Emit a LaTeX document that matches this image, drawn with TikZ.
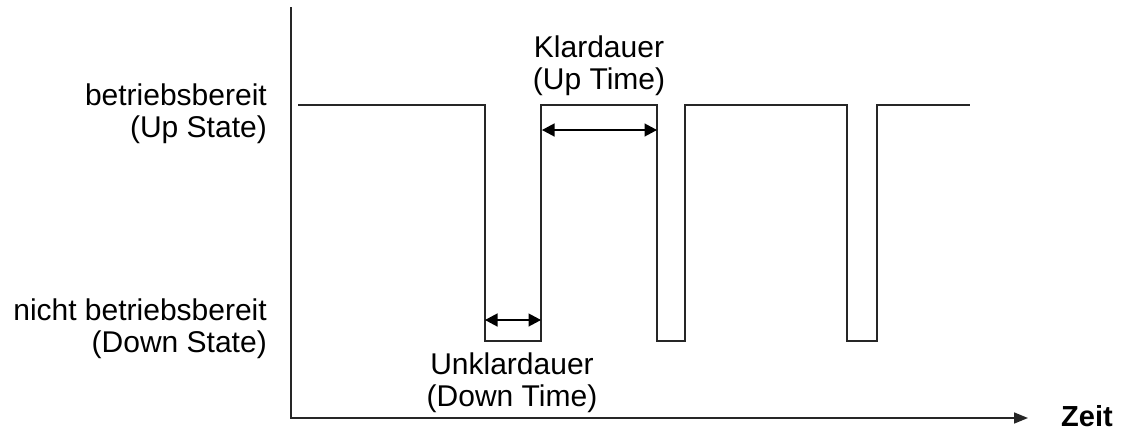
\documentclass[tikz,border=0pt]{standalone}
\usepackage{fontspec}
\setmainfont{Liberation Sans}
\usetikzlibrary{arrows.meta}
\begin{document}
\begin{tikzpicture}[x=1pt,y=-1pt,
  lbl/.style={inner sep=0pt,font=\fontsize{30}{32}\selectfont},
  axis/.style={line width=1.6pt,black!85},
  signal/.style={line width=1.3pt,black!85},
  tip/.style={Triangle[length=12.5pt,width=13pt]},
  dim/.style={line width=1.3pt,{Triangle[length=12.5pt,width=13pt]}-{Triangle[length=12.5pt,width=13pt]}}]
\useasboundingbox (0,0) rectangle (1124,432);

% axes
\coordinate (origin) at (290,418);
\coordinate (ytop) at (291,7);
\coordinate (xend) at (1028,418);
\draw[axis] (ytop) -- (291,418);
\draw[axis,-{Triangle[length=14pt,width=11pt]}] (origin) -- (xend);
\node[anchor=base west,inner sep=0pt,font=\fontsize{29}{30}\selectfont\bfseries] (zeit) at (1061,426) {Zeit};

% state labels
\node[lbl,anchor=base east] (up1) at (267,105) {betriebsbereit};
\node[lbl,anchor=base east] (up2) at (267,137) {(Up State)};
\node[lbl,anchor=base east] (dn1) at (267,320) {nicht betriebsbereit};
\node[lbl,anchor=base east] (dn2) at (267,352) {(Down State)};

% state over time
\draw[signal] (298,105) -- (485,105) -- (485,341) -- (541,341) -- (541,105)
  -- (657,105) -- (657,341) -- (685,341) -- (685,105)
  -- (847,105) -- (847,341) -- (877,341) -- (877,105) -- (970,105);

% durations
\coordinate (utA) at (542,130);
\coordinate (utB) at (657,130);
\coordinate (dtA) at (485,320);
\coordinate (dtB) at (541,320);
\draw[dim] (utA) -- (utB);
\draw[dim] (dtA) -- (dtB);

\node[lbl,anchor=base] (ut1) at (599,57) {Klardauer};
\node[lbl,anchor=base] (ut2) at (599,89) {(Up Time)};
\node[lbl,anchor=base] (dt1) at (512,374) {Unklardauer};
\node[lbl,anchor=base] (dt2) at (512,406) {(Down Time)};
\end{tikzpicture}
\end{document}
